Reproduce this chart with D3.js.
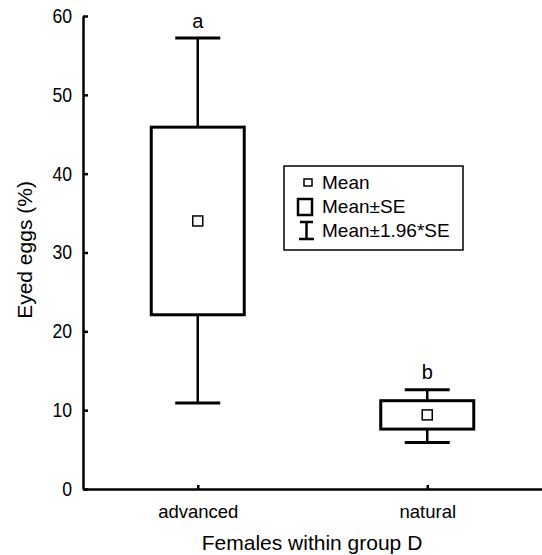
<!DOCTYPE html>
<html>
<head>
<meta charset="utf-8">
<script src="https://cdn.jsdelivr.net/npm/d3@7"></script>
<style>
  body { margin: 0; background: #fff; }
  svg { display: block; font-family: "Liberation Sans", Arial, sans-serif; }
  .axis path, .axis line { stroke: #000; stroke-width: 2.5; }
  .axis text { fill: #000; }
</style>
</head>
<body>
<svg id="chart"></svg>
<script>
// chart data
const groups = ['advanced', 'natural'];
const means = [34.0, 9.4];
const seLow = [22.1, 7.6];
const seHigh = [45.9, 11.2];
const ciLow = [10.9, 5.9];
const ciHigh = [57.2, 12.6];
const letters = ['a', 'b'];
const yTicks = [0, 10, 20, 30, 40, 50, 60];
const legendLabels = ['Mean', 'Mean\u00b1SE', 'Mean\u00b11.96*SE'];

let width = 542;
let height = 555;
let padLeft = 83, padRight = 542, padTop = 16, padBottom = 489;
let boxW = 93, capW = 45, meanSize = 10;

let svg = d3.select('#chart').attr('width', width).attr('height', height);

// squeeze text horizontally, the original font is a narrow one
let squeeze = (sel, k) => {
  sel.each(function() {
    let len = this.getComputedTextLength();
    d3.select(this).attr('textLength', len * k).attr('lengthAdjust', 'spacingAndGlyphs');
  });
};

let yScale = d3.scaleLinear().domain([0, 60]).range([padBottom, padTop]);
let xScale = d3.scalePoint().domain(groups).range([padLeft, padRight]).padding(0.5);

// y axis
let yAxis = d3.axisLeft(yScale)
  .tickValues(yTicks)
  .tickSizeInner(-5)
  .tickSizeOuter(0)
  .tickPadding(11);
let yG = svg.append('g')
  .attr('class', 'axis')
  .attr('transform', 'translate(' + padLeft + ',0)')
  .call(yAxis);
yG.selectAll('text').style('font-size', '20px').call(squeeze, 0.88);

// x axis
let xAxis = d3.axisBottom(xScale)
  .tickSizeInner(-4)
  .tickSizeOuter(0)
  .tickPadding(16);
let xG = svg.append('g')
  .attr('class', 'axis')
  .attr('transform', 'translate(0,' + padBottom + ')')
  .call(xAxis);
xG.selectAll('text').style('font-size', '18.5px');

// axis titles
svg.append('text')
  .attr('x', 312).attr('y', 550)
  .attr('text-anchor', 'middle')
  .style('font-size', '21px')
  .text('Females within group D');
svg.append('text')
  .attr('transform', 'translate(32,250) rotate(-90)')
  .attr('text-anchor', 'middle')
  .style('font-size', '21px')
  .text('Eyed eggs (%)');

let g = svg.selectAll('.grp')
  .data(groups.map((d, i) => ({ name: d, i: i })))
  .enter().append('g')
  .attr('class', 'grp');

// whiskers
g.append('line')
  .attr('x1', d => xScale(d.name)).attr('x2', d => xScale(d.name))
  .attr('y1', d => yScale(ciHigh[d.i])).attr('y2', d => yScale(ciLow[d.i]))
  .attr('stroke', '#000').attr('stroke-width', 2.5);
[ciHigh, ciLow].forEach(arr => {
  g.append('line')
    .attr('x1', d => xScale(d.name) - capW / 2).attr('x2', d => xScale(d.name) + capW / 2)
    .attr('y1', d => yScale(arr[d.i])).attr('y2', d => yScale(arr[d.i]))
    .attr('stroke', '#000').attr('stroke-width', 3);
});

// SE boxes
g.append('rect')
  .attr('x', d => xScale(d.name) - boxW / 2)
  .attr('width', boxW)
  .attr('y', d => yScale(seHigh[d.i]))
  .attr('height', d => yScale(seLow[d.i]) - yScale(seHigh[d.i]))
  .attr('fill', '#fff').attr('stroke', '#000').attr('stroke-width', 3);

// means
g.append('rect')
  .attr('x', d => xScale(d.name) - meanSize / 2)
  .attr('y', d => yScale(means[d.i]) - meanSize / 2)
  .attr('width', meanSize).attr('height', meanSize)
  .attr('fill', '#fff').attr('stroke', '#000').attr('stroke-width', 1.5);

// significance letters
g.append('text')
  .attr('x', d => xScale(d.name))
  .attr('y', d => yScale(ciHigh[d.i]) - 10.5)
  .attr('text-anchor', 'middle')
  .style('font-size', '20px')
  .text(d => letters[d.i]);

// legend
let lg = svg.append('g').attr('transform', 'translate(284,166)');
lg.append('rect')
  .attr('width', 179).attr('height', 84)
  .attr('fill', '#fff').attr('stroke', '#000').attr('stroke-width', 1.5);
lg.append('rect')
  .attr('x', 20).attr('y', 13).attr('width', 8).attr('height', 7)
  .attr('fill', 'none').attr('stroke', '#000').attr('stroke-width', 1.5);
lg.append('rect')
  .attr('x', 14).attr('y', 33).attr('width', 14).attr('height', 16)
  .attr('fill', 'none').attr('stroke', '#000').attr('stroke-width', 2.5);
lg.append('path')
  .attr('d', 'M16,56 H29 M22.5,56 V73 M15,73 H30')
  .attr('fill', 'none').attr('stroke', '#000').attr('stroke-width', 2.5);
lg.selectAll('.lt')
  .data(legendLabels)
  .enter().append('text')
  .attr('x', 38)
  .attr('y', (d, i) => 23 + i * 24)
  .style('font-size', '19px')
  .text(d => d);
</script>
</body>
</html>
